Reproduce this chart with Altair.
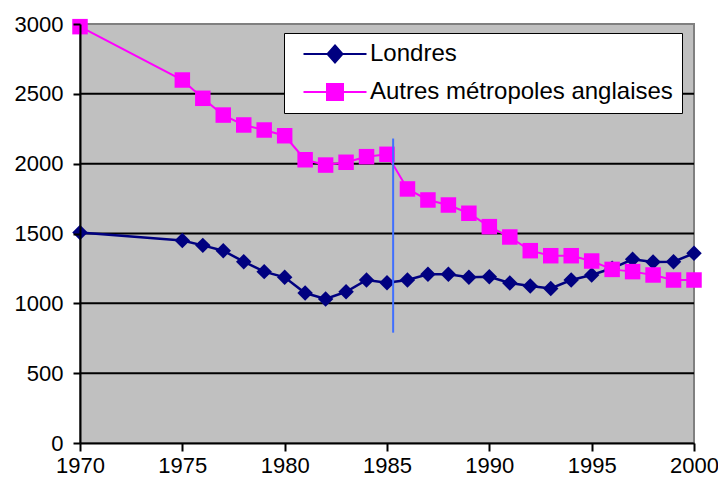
import altair as alt
import pandas as pd

years = [1970, 1975, 1976, 1977, 1978, 1979, 1980, 1981, 1982, 1983, 1984, 1985,
         1986, 1987, 1988, 1989, 1990, 1991, 1992, 1993, 1994, 1995, 1996, 1997,
         1998, 1999, 2000]
londres = [1508, 1450, 1415, 1377, 1298, 1227, 1186, 1074, 1031, 1083, 1167, 1148,
           1167, 1208, 1208, 1186, 1190, 1146, 1124, 1107, 1167, 1203, 1251, 1315,
           1296, 1298, 1358]
autres = [2981, 2599, 2468, 2348, 2277, 2241, 2200, 2028, 1990, 2010, 2050, 2067,
          1819, 1740, 1704, 1645, 1549, 1475, 1377, 1341, 1341, 1303, 1243, 1227,
          1203, 1167, 1167]
series_names = ["Londres", "Autres métropoles anglaises"]
series_colors = ["#000080", "#FF00FF"]
series_shapes = ["diamond", "square"]
legend_paths = [
    "M-3.15,0L3.15,0M0,-0.85L0.75,0L0,0.85L-0.75,0Z",
    "M-3.15,0L3.15,0M-0.8,-0.8L0.8,-0.8L0.8,0.8L-0.8,0.8Z",
]
x_ticks = [1970, 1975, 1980, 1985, 1990, 1995, 2000]
y_ticks = [0, 500, 1000, 1500, 2000, 2500, 3000]
grid_vals = [500, 1000, 1500, 2000, 2500]
marker_year = [1985.3]
marker_low = [790]
marker_high = [2180]

rows = []
for name, vals in zip(series_names, [londres, autres]):
    for yr, v in zip(years, vals):
        rows.append({"year": yr, "value": v, "series": name})
df = pd.DataFrame(rows)
rule_df = pd.DataFrame({"year": marker_year, "lo": marker_low, "hi": marker_high})
grid_df = pd.DataFrame({"value": grid_vals})

FONT = "Liberation Sans"

x_enc = alt.X("year:Q", title=None,
              scale=alt.Scale(domain=[1970, 2000], nice=False, zero=False),
              axis=alt.Axis(values=x_ticks, format="d", grid=False, labelFlush=False,
                            labelOverlap=False, labelPadding=4, tickSize=8, zindex=1))
y_enc = alt.Y("value:Q", title=None,
              scale=alt.Scale(domain=[0, 3000], nice=False),
              axis=alt.Axis(values=y_ticks, format="d", grid=False, labelFlush=False,
                            labelOverlap=False, labelPadding=10, tickSize=7, zindex=1))

layers = []
bg = alt.Chart(pd.DataFrame({"k": [0]})).mark_rect(
    fill="#C0C0C0", stroke="#808080", strokeWidth=2).encode(
    x=alt.value(0), x2=alt.value("width"), y=alt.value(0), y2=alt.value("height"))
layers.append(bg)
grid = alt.Chart(grid_df).mark_rule(color="black", strokeWidth=2).encode(y=y_enc)
layers.append(grid)

for name, color, shape, sw in zip(series_names, series_colors, series_shapes, [2.5, 2]):
    sub = alt.Chart(df).transform_filter(alt.datum.series == name)
    layers.append(sub.mark_line(color=color, strokeWidth=sw).encode(x=x_enc, y=y_enc))
    layers.append(sub.mark_point(shape=shape, filled=True, color=color, opacity=1,
                                 size=240, strokeWidth=0).encode(x=x_enc, y=y_enc))

rule = alt.Chart(rule_df).mark_rule(color="#3F6FFF", strokeWidth=2).encode(
    x="year:Q", y="lo:Q", y2="hi:Q")
layers.append(rule)

leg = alt.Legend(title=None, orient="none", legendX=204, legendY=9,
                 symbolSize=400, symbolStrokeWidth=2, symbolOffset=30,
                 labelOffset=23, labelFontSize=24, labelFont=FONT, labelColor="black",
                 labelLimit=500, fillColor="white", strokeColor="black",
                 padding=9, rowPadding=13)
legend_layer = alt.Chart(df).transform_filter("datum.year < 0").mark_point(
    filled=True, opacity=1, strokeWidth=2).encode(
    fill=alt.Fill("series:N", scale=alt.Scale(domain=series_names, range=series_colors), legend=leg),
    stroke=alt.Stroke("series:N", scale=alt.Scale(domain=series_names, range=series_colors), legend=leg),
    shape=alt.Shape("series:N", scale=alt.Scale(domain=series_names, range=legend_paths), legend=leg),
)
layers.append(legend_layer)

chart = alt.layer(*layers).properties(
    width=614, height=419,
    autosize=alt.AutoSizeParams(type="none"),
    padding={"left": 72, "top": 16, "right": 24, "bottom": 33},
    background="white",
).configure_view(
    stroke="transparent"
).configure_axis(
    labelFont=FONT, labelFontSize=22, labelColor="black",
    tickColor="black", tickWidth=2, domainColor="black", domainWidth=2,
)

chart.save("out.html", embed_options={"renderer": "svg", "actions": False})
